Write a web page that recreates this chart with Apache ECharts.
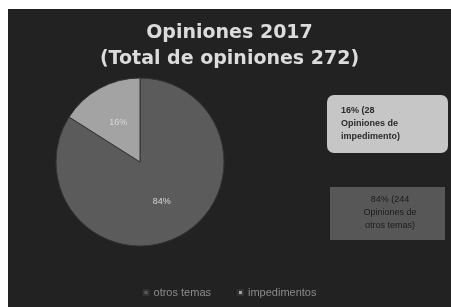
<!DOCTYPE html>
<html>
<head>
<meta charset="utf-8">
<script src="https://cdn.jsdelivr.net/npm/echarts@6/dist/echarts.min.js"></script>
<style>
  html, body { margin: 0; padding: 0; background: #fff; }
  #main { position: absolute; left: 8px; top: 9px; width: 443px; height: 298px; }
</style>
</head>
<body>
<div id="main"></div>
<script>
// datos (porcentajes tal como aparecen en el gráfico)
var categorias = ['otros temas', 'impedimentos'];
var valores = [84, 16];
var colores = ['#5b5b5b', '#a3a3a3'];
var notas = ['16% (28\nOpiniones de\nimpedimento)', '84% (244\nOpiniones de\notros temas)'];

var chart = echarts.init(document.getElementById('main'));
chart.setOption({
  backgroundColor: '#222222',
  color: colores,
  title: {
    text: 'Opiniones 2017\n(Total de opiniones 272)',
    left: 'center',
    top: 6,
    textStyle: {
      color: '#dcdcdc',
      fontFamily: 'DejaVu Sans',
      fontSize: 19,
      fontWeight: 'bold',
      lineHeight: 26
    }
  },
  legend: {
    bottom: 4,
    left: 'center',
    itemWidth: 5,
    itemHeight: 5,
    itemGap: 26,
    icon: 'rect',
    textStyle: { color: '#8c8c8c', fontSize: 11, fontFamily: 'Liberation Sans' },
    data: categorias
  },
  series: [{
    type: 'pie',
    center: [132, 153],
    radius: 84,
    startAngle: 90,
    clockwise: true,
    silent: true,
    itemStyle: { borderColor: '#333', borderWidth: 1 },
    label: {
      position: 'inside',
      formatter: '{c}%',
      color: '#d8d8d8',
      fontSize: 9,
      fontFamily: 'Liberation Sans'
    },
    labelLine: { show: false },
    data: categorias.map(function (c, i) {
      return { name: c, value: valores[i] };
    })
  }],
  graphic: [
    {
      type: 'rect',
      shape: { x: 319, y: 86, width: 121, height: 58, r: 7 },
      style: { fill: '#c6c6c6' }
    },
    {
      type: 'text',
      x: 333, y: 95,
      style: {
        text: notas[0],
        fill: '#2a2a2a',
        font: 'bold 9px Liberation Sans',
        lineHeight: 13
      }
    },
    {
      type: 'rect',
      shape: { x: 322, y: 178, width: 115, height: 53 },
      style: { fill: '#575757' }
    },
    {
      type: 'text',
      x: 382, y: 204,
      style: {
        text: notas[1],
        fill: '#1c1c1c',
        font: '9px Liberation Sans',
        lineHeight: 13,
        align: 'center',
        verticalAlign: 'middle'
      }
    }
  ]
});
</script>
</body>
</html>
